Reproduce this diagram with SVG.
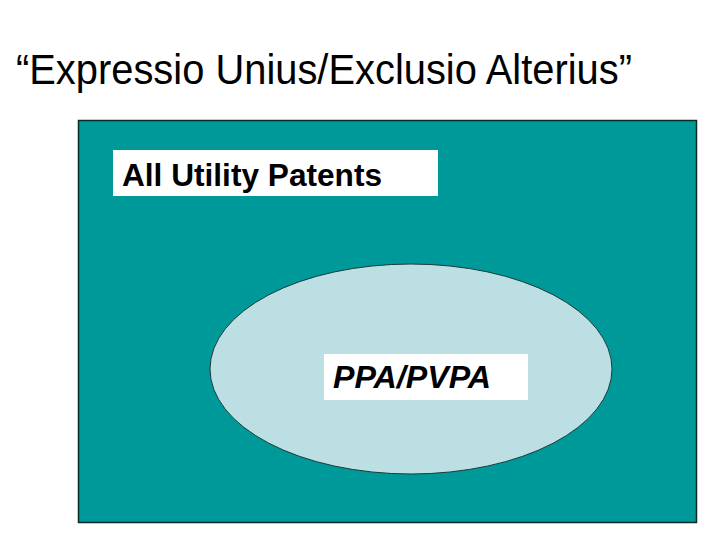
<svg xmlns="http://www.w3.org/2000/svg" width="720" height="540" viewBox="0 0 720 540">
<style>
.t{font-family:"Liberation Sans",Arial,sans-serif;fill:#000}
.box{fill:#fff}
</style>
<rect width="720" height="540" fill="#fff"/>
<text class="t" x="16" y="84" font-size="43" textLength="616" lengthAdjust="spacingAndGlyphs">“Expressio Unius/Exclusio Alterius”</text>
<g id="all-utility-patents">
<rect x="78.5" y="120.5" width="618" height="402" fill="#009999" stroke="#0a2a2a" stroke-width="1.5"/>
<rect class="box" x="113" y="150" width="325" height="46"/>
<text class="t" x="122" y="186" font-size="32" font-weight="bold" textLength="260" lengthAdjust="spacingAndGlyphs">All Utility Patents</text>
</g>
<g id="ppa-pvpa">
<ellipse cx="411" cy="369" rx="201" ry="105" fill="#bbdfe2" stroke="#1a3a3a" stroke-width="1"/>
<rect class="box" x="324" y="354" width="204" height="46"/>
<text class="t" x="333" y="388" font-size="31" font-weight="bold" font-style="italic" textLength="158" lengthAdjust="spacingAndGlyphs">PPA/PVPA</text>
</g>
<g id="connectors"/>
</svg>
